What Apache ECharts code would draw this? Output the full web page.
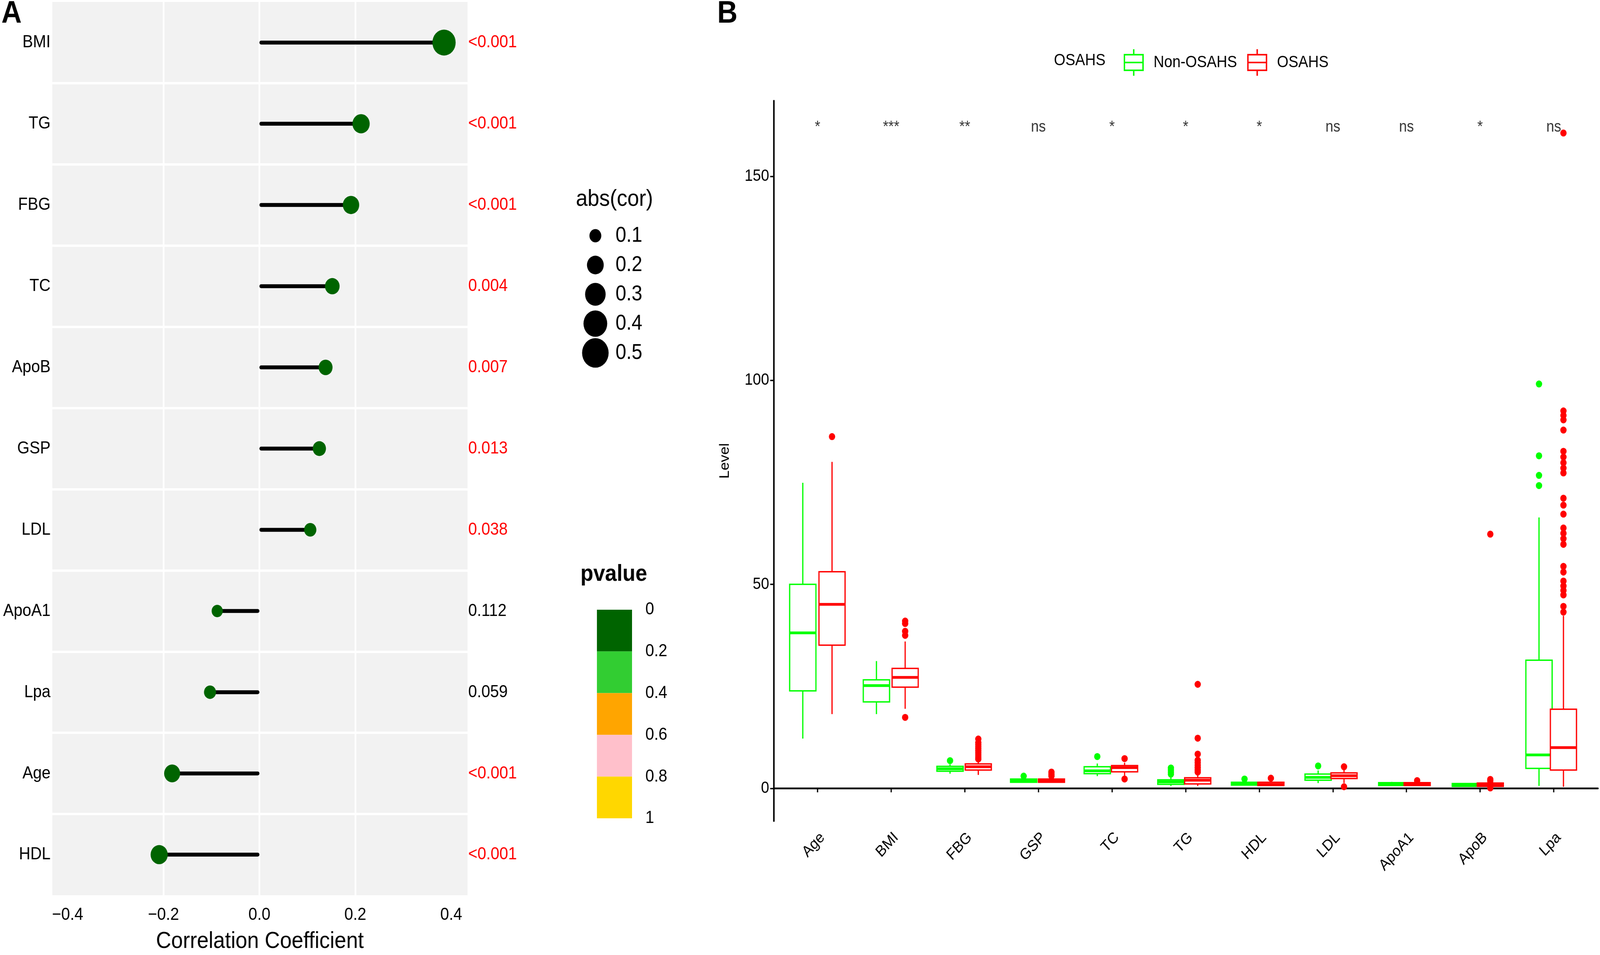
<!DOCTYPE html>
<html>
<head>
<meta charset="utf-8">
<title>OSAHS correlation and levels</title>
<script src="https://cdn.jsdelivr.net/npm/echarts@6/dist/echarts.min.js"></script>
<style>
  html, body { margin: 0; padding: 0; background: #fff; width: 100%; height: 100%; overflow: hidden; }
  #wrap { position: fixed; left: 0; top: 0; width: 4562px; height: 2445px; transform-origin: 0 0; }
  #chart { width: 4562px; height: 2445px; }
</style>
</head>
<body>
<div id="wrap"><div id="chart"></div></div>
<script>
// ---- panel A: correlation with OSAHS (top row first)
const corNames = ['BMI', 'TG', 'FBG', 'TC', 'ApoB', 'GSP', 'LDL', 'ApoA1', 'Lpa', 'Age', 'HDL'];
const corValues = [0.385, 0.212, 0.191, 0.152, 0.138, 0.125, 0.106, -0.088, -0.103, -0.182, -0.209];
const pValues = [0.0005, 0.0005, 0.0005, 0.004, 0.007, 0.013, 0.038, 0.112, 0.059, 0.0005, 0.0005];
const pLabels = ['<0.001', '<0.001', '<0.001', '0.004', '0.007', '0.013', '0.038', '0.112', '0.059', '<0.001', '<0.001'];
const corTicks = [-0.4, -0.2, 0, 0.2, 0.4];

// legends of panel A
const sizeLegendValues = ['0.1', '0.2', '0.3', '0.4', '0.5'];
const pBins = ['0-0.2', '0.2-0.4', '0.4-0.6', '0.6-0.8', '0.8-1'];
const pBinColors = ['#006400', '#32CD32', '#FFA500', '#FFC0CB', '#FFD700'];
const pBinWidth = 0.2;

// ---- panel B: levels by group, [min, Q1, median, Q3, max]
const categories = ['Age', 'BMI', 'FBG', 'GSP', 'TC', 'TG', 'HDL', 'LDL', 'ApoA1', 'ApoB', 'Lpa'];
const nonOsahsBox = [
  [12.2, 23.9, 38.1, 50.0, 74.9],
  [18.2, 21.2, 25.2, 26.6, 31.2],
  [3.6, 4.2, 4.8, 5.4, 5.9],
  [1.5, 1.5, 1.9, 2.3, 2.6],
  [3.0, 3.6, 4.3, 5.3, 6.1],
  [0.6, 1.0, 1.6, 2.1, 2.9],
  [0.7, 0.8, 1.1, 1.5, 1.9],
  [1.3, 2.0, 2.7, 3.5, 4.4],
  [0.7, 0.7, 1.1, 1.4, 1.6],
  [0.5, 0.5, 0.85, 1.2, 1.3],
  [0.6, 4.9, 8.2, 31.4, 66.4]
];
const osahsBox = [
  [18.2, 35.1, 45.1, 53.1, 80.0],
  [19.5, 24.8, 27.2, 29.4, 36.0],
  [3.3, 4.5, 5.3, 6.0, 6.9],
  [1.5, 1.5, 1.9, 2.3, 2.7],
  [3.1, 4.05, 5.1, 5.6, 6.3],
  [0.6, 1.1, 2.0, 2.6, 3.6],
  [0.6, 0.7, 1.0, 1.5, 2.0],
  [1.3, 2.4, 3.1, 3.8, 4.6],
  [0.7, 0.7, 1.1, 1.4, 1.7],
  [0.4, 0.5, 0.85, 1.3, 1.5],
  [0.4, 4.5, 10.0, 19.4, 42.3]
];
const nonOsahsOutliers = [
  ['FBG', 6.8], ['GSP', 3.0], ['TC', 7.8],
  ['TG', 5.0], ['TG', 4.5], ['TG', 4.0], ['TG', 3.5],
  ['HDL', 2.3], ['LDL', 5.5],
  ['Lpa', 99.1], ['Lpa', 81.5], ['Lpa', 76.7], ['Lpa', 74.2]
];
const osahsOutliers = [
  ['Age', 86.2],
  ['BMI', 41.0], ['BMI', 40.4], ['BMI', 38.5], ['BMI', 37.5], ['BMI', 17.4],
  ['FBG', 12.1], ['FBG', 11.2], ['FBG', 10.7], ['FBG', 10.2], ['FBG', 9.7], ['FBG', 9.2],
  ['FBG', 8.7], ['FBG', 8.2], ['FBG', 7.7], ['FBG', 7.2],
  ['GSP', 4.0], ['GSP', 3.5], ['GSP', 3.0],
  ['TC', 7.3], ['TC', 2.3],
  ['TG', 25.5], ['TG', 12.3], ['TG', 8.4], ['TG', 6.9], ['TG', 6.3], ['TG', 5.7], ['TG', 5.1], ['TG', 4.5], ['TG', 4.0],
  ['HDL', 2.5], ['LDL', 5.3], ['LDL', 0.4], ['ApoA1', 1.9],
  ['ApoB', 62.3], ['ApoB', 2.2], ['ApoB', 1.8], ['ApoB', 0.1],
  ['Lpa', 160.6], ['Lpa', 92.5], ['Lpa', 91.4], ['Lpa', 90.3], ['Lpa', 87.8], ['Lpa', 82.6], ['Lpa', 81.2],
  ['Lpa', 79.8], ['Lpa', 78.5], ['Lpa', 77.3], ['Lpa', 71.1], ['Lpa', 69.4], ['Lpa', 67.2], ['Lpa', 63.8],
  ['Lpa', 62.5], ['Lpa', 61.2], ['Lpa', 59.8], ['Lpa', 54.4], ['Lpa', 53.0], ['Lpa', 50.8], ['Lpa', 49.6],
  ['Lpa', 48.5], ['Lpa', 47.4], ['Lpa', 44.6], ['Lpa', 43.2]
];
const sigLabels = ['*', '***', '**', 'ns', '*', '*', '*', 'ns', 'ns', '*', 'ns'];
const sigLevel = 162;
const levelTicks = [0, 50, 100, 150];

const BASE_W = 4562;
const BASE_H = 2445;
const FONT = 'Liberation Sans, Arial, Helvetica, sans-serif';
const GREEN = '#00FF00';
const RED = '#FF0000';
const BOX_FRAC = 0.357; // box width as share of a category band

// the layout is drawn on a 4562x2445 board, then stretched onto the window
const sx = window.innerWidth / BASE_W || 1;
const sy = window.innerHeight / BASE_H || 1;
document.getElementById('wrap').style.transform = 'scale(' + sx + ',' + sy + ')';

// ggplot-like area scaling of the dots
function dotSize(v) {
  return 107 * Math.sqrt(v);
}
function pColor(p) {
  return pBinColors[Math.min(pBins.length - 1, Math.floor(p / pBinWidth))];
}
function fmtCor(v) {
  return (v < 0 ? '\u2212' : '') + Math.abs(v).toFixed(1);
}

// ggplot style box: no whisker caps, fat median
function boxRenderer(color) {
  return function (params, api) {
    const cat = api.value(0);
    const lo = api.coord([cat, api.value(1)]);
    const q1 = api.coord([cat, api.value(2)]);
    const med = api.coord([cat, api.value(3)]);
    const q3 = api.coord([cat, api.value(4)]);
    const hi = api.coord([cat, api.value(5)]);
    const half = api.size([1, 0])[0] * BOX_FRAC / 2;
    const x = lo[0];
    const stroke = { stroke: color, lineWidth: 3.5, fill: null };
    return {
      type: 'group',
      children: [
        { type: 'line', shape: { x1: x, y1: hi[1], x2: x, y2: q3[1] }, style: stroke },
        { type: 'line', shape: { x1: x, y1: q1[1], x2: x, y2: lo[1] }, style: stroke },
        { type: 'rect', shape: { x: x - half, y: q3[1], width: half * 2, height: q1[1] - q3[1] },
          style: { fill: '#fff', stroke: color, lineWidth: 3.5 } },
        { type: 'line', shape: { x1: x - half, y1: med[1], x2: x + half, y2: med[1] },
          style: { stroke: color, lineWidth: 7 } }
      ]
    };
  };
}

// legend key that looks like a small boxplot
const boxIcon = 'path://M26.5 0H30.5V12H26.5Z M0 12H57V16H0Z M0 52H57V56H0Z M0 16H4V52H0Z M53 16H57V52H53Z M0 32H57V36H0Z M26.5 56H30.5V68H26.5Z';

const chart = echarts.init(document.getElementById('chart'), null, {
  renderer: 'canvas',
  devicePixelRatio: (window.devicePixelRatio || 1) * Math.max(sx, sy)
});

const plainText = (size, weight) => ({ fontFamily: FONT, fontSize: size, fontWeight: weight || 'normal', color: '#000' });

const option = {
  animation: false,
  backgroundColor: '#fff',
  textStyle: { fontFamily: FONT },
  title: [
    { text: 'A', left: 4, top: -4, padding: 0, textStyle: plainText(80, 'bold') },
    { text: 'B', left: 2045, top: -4, padding: 0, textStyle: plainText(80, 'bold') },
    { text: 'abs(cor)', left: 1642, top: 480, padding: 0, textStyle: plainText(60) },
    { text: 'pvalue', left: 1655, top: 1440, padding: 0, textStyle: plainText(60, 'bold') },
    { text: 'OSAHS', left: 3005, top: 134, padding: 0, textStyle: plainText(42) }
  ],
  legend: {
    left: 3199,
    top: 121,
    itemWidth: 57,
    itemHeight: 68,
    itemGap: 29,
    selectedMode: false,
    textStyle: Object.assign(plainText(42), { padding: [0, 0, 0, 23] }),
    data: [
      { name: 'Non-OSAHS', icon: boxIcon, itemStyle: { color: GREEN, borderWidth: 0, borderColor: 'transparent' } },
      { name: 'OSAHS', icon: boxIcon, itemStyle: { color: RED, borderWidth: 0, borderColor: 'transparent' } }
    ]
  },
  grid: [
    // 0: lollipop panel
    { left: 149, top: 5, width: 1184, height: 2291, show: true, backgroundColor: '#F2F2F2', borderWidth: 0 },
    // 1: size legend
    { left: 1660, top: 566, width: 75, height: 375 },
    // 2: p-value colour bar
    { left: 1702, top: 1561, width: 100, height: 534 },
    // 3: boxplot panel, category centres
    { left: 2226, top: 258, width: 2309, height: 1844 },
    // 4: boxplot panel frame (axis lines)
    { left: 2206, top: 258, width: 2350, height: 1844 },
    // 5: Non-OSAHS dodge
    { left: 2184, top: 258, width: 2309, height: 1844 },
    // 6: OSAHS dodge
    { left: 2268, top: 258, width: 2309, height: 1844 }
  ],
  xAxis: [
    {
      gridIndex: 0, type: 'value', min: -0.432, max: 0.434,
      axisLine: { show: false }, axisTick: { show: false, customValues: corTicks },
      axisLabel: { customValues: corTicks, formatter: fmtCor, margin: 28, fontSize: 45, color: '#000', fontFamily: FONT },
      splitLine: { show: true, showMinLine: false, showMaxLine: false, lineStyle: { color: '#fff', width: 5 } },
      name: 'Correlation Coefficient', nameLocation: 'middle', nameGap: 88,
      nameTextStyle: plainText(60)
    },
    { gridIndex: 1, type: 'value', min: -1, max: 1, show: false },
    { gridIndex: 2, type: 'category', data: ['pvalue'], show: false },
    {
      gridIndex: 3, type: 'category', data: categories,
      axisLine: { show: false },
      axisTick: { show: true, alignWithLabel: true, length: 10, lineStyle: { color: '#000', width: 3.5 } },
      axisLabel: { interval: 0, rotate: 45, align: 'right', verticalAlign: 'top', margin: 22, fontSize: 40, color: '#000', fontFamily: FONT },
      splitLine: { show: false }
    },
    {
      gridIndex: 4, type: 'value', min: 0, max: 1,
      axisLine: { show: true, lineStyle: { color: '#000', width: 4.5 } },
      axisTick: { show: false }, axisLabel: { show: false }, splitLine: { show: false }
    },
    { gridIndex: 5, type: 'category', data: categories, show: false },
    { gridIndex: 6, type: 'category', data: categories, show: false }
  ],
  yAxis: [
    {
      gridIndex: 0, type: 'category', data: corNames, inverse: true,
      axisLine: { show: false }, axisTick: { show: false },
      axisLabel: { interval: 0, margin: 5, fontSize: 45, color: '#000', fontFamily: FONT },
      splitLine: { show: true, interval: 0, showMinLine: false, showMaxLine: false, lineStyle: { color: '#fff', width: 6 } }
    },
    {
      gridIndex: 0, type: 'category', data: corNames, inverse: true, position: 'right',
      axisLine: { show: false }, axisTick: { show: false }, splitLine: { show: false },
      axisLabel: {
        interval: 0, margin: 2, fontSize: 45, fontFamily: FONT,
        formatter: (v, i) => pLabels[i],
        color: (v, i) => (pValues[i] < 0.05 ? '#FF0000' : '#000')
      }
    },
    {
      gridIndex: 1, type: 'category', data: sizeLegendValues, inverse: true, position: 'right',
      axisLine: { show: false }, axisTick: { show: false }, splitLine: { show: false },
      axisLabel: { interval: 0, margin: 20, fontSize: 55, color: '#000', fontFamily: FONT }
    },
    {
      gridIndex: 2, type: 'value', min: 0, max: 1, interval: 0.2, inverse: true, position: 'right',
      axisLine: { show: false }, axisTick: { show: false }, splitLine: { show: false },
      axisLabel: {
        margin: 38, fontSize: 45, color: '#000', fontFamily: FONT,
        formatter: (v) => (v === 0 || v === 1 ? String(v) : v.toFixed(1))
      }
    },
    { gridIndex: 3, type: 'value', min: -8, max: 168.5, show: false },
    {
      gridIndex: 4, type: 'value', min: -8, max: 168.5,
      axisLine: { show: true, lineStyle: { color: '#000', width: 4.5 } },
      axisTick: { show: true, customValues: levelTicks, length: 10, lineStyle: { color: '#000', width: 3.5 } },
      axisLabel: { customValues: levelTicks, margin: 13, fontSize: 42, color: '#000', fontFamily: FONT },
      splitLine: { show: false },
      name: 'Level', nameLocation: 'middle', nameGap: 119, nameTextStyle: plainText(38)
    },
    { gridIndex: 5, type: 'value', min: -8, max: 168.5, show: false },
    { gridIndex: 6, type: 'value', min: -8, max: 168.5, show: false }
  ],
  series: [
    // panel A sticks
    {
      name: 'stick', type: 'bar', xAxisIndex: 0, yAxisIndex: 0,
      data: corValues, barWidth: 10,
      itemStyle: { color: '#000', borderRadius: 5 },
      silent: true
    },
    // panel A heads
    {
      name: 'cor', type: 'scatter', xAxisIndex: 0, yAxisIndex: 0,
      data: corValues.map((v, i) => [v, corNames[i]]),
      symbolSize: (val) => dotSize(Math.abs(val[0])),
      itemStyle: { color: (p) => pColor(pValues[p.dataIndex]), opacity: 1 },
      z: 3
    },
    // size legend
    {
      name: 'abs(cor)', type: 'scatter', xAxisIndex: 1, yAxisIndex: 2,
      data: sizeLegendValues.map((v) => [0, v]),
      symbolSize: (val, p) => dotSize(Number(sizeLegendValues[p.dataIndex])),
      itemStyle: { color: '#000', opacity: 1 }
    },
    // p-value colour bar
    ...pBins.map((bin, i) => ({
      name: bin, type: 'bar', xAxisIndex: 2, yAxisIndex: 3, stack: 'pbar',
      data: [pBinWidth], barWidth: '100%',
      itemStyle: { color: pBinColors[i] }
    })),
    // panel B boxes
    {
      name: 'Non-OSAHS', type: 'custom', xAxisIndex: 5, yAxisIndex: 6,
      data: nonOsahsBox.map((b, i) => [i].concat(b)),
      encode: { x: 0, y: [1, 2, 3, 4, 5] },
      renderItem: boxRenderer(GREEN),
      itemStyle: { color: GREEN }
    },
    {
      name: 'OSAHS', type: 'custom', xAxisIndex: 6, yAxisIndex: 7,
      data: osahsBox.map((b, i) => [i].concat(b)),
      encode: { x: 0, y: [1, 2, 3, 4, 5] },
      renderItem: boxRenderer(RED),
      itemStyle: { color: RED }
    },
    {
      name: 'Non-OSAHS', type: 'scatter', xAxisIndex: 5, yAxisIndex: 6,
      data: nonOsahsOutliers, symbolSize: 18,
      itemStyle: { color: GREEN, opacity: 1 }, z: 3
    },
    {
      name: 'OSAHS', type: 'scatter', xAxisIndex: 6, yAxisIndex: 7,
      data: osahsOutliers, symbolSize: 18,
      itemStyle: { color: RED, opacity: 1 }, z: 3
    },
    // significance marks
    {
      name: 'signif', type: 'scatter', xAxisIndex: 3, yAxisIndex: 4,
      data: categories.map((c) => [c, sigLevel]),
      symbolSize: 1,
      itemStyle: { color: 'rgba(0,0,0,0)' },
      label: {
        show: true, position: 'inside',
        formatter: (p) => sigLabels[p.dataIndex],
        fontSize: 40, color: '#000', fontFamily: FONT
      },
      z: 5
    }
  ]
};

chart.setOption(option);
</script>
</body>
</html>
